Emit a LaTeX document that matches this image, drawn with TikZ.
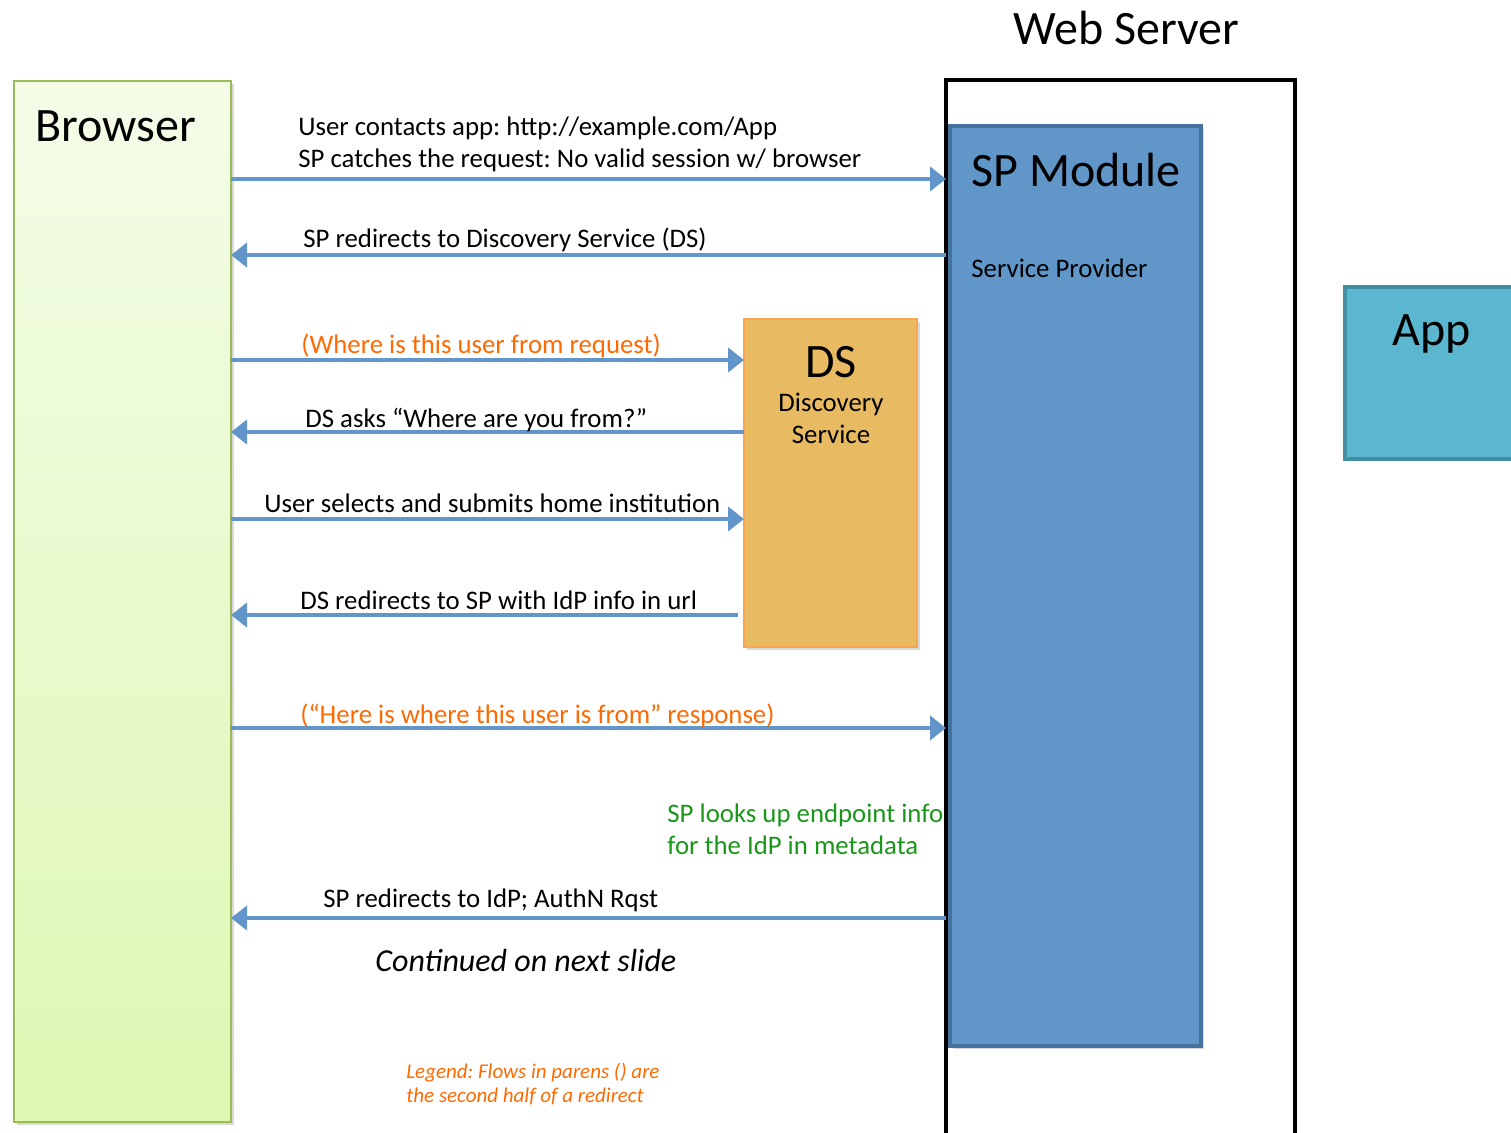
\documentclass[tikz,border=0pt]{standalone}
\usepackage{fontspec}
\setmainfont{Carlito}
\usetikzlibrary{arrows.meta,shadows}
\definecolor{flowblue}{HTML}{6295C9}
\definecolor{spfill}{HTML}{6196C9}
\definecolor{spline}{HTML}{44729F}
\definecolor{appfill}{HTML}{5BB7D0}
\definecolor{appline}{HTML}{418FA1}
\definecolor{dsfill}{HTML}{E8BB62}
\definecolor{dsline}{HTML}{F8A64F}
\definecolor{brtop}{HTML}{F4FCE8}
\definecolor{brbot}{HTML}{DDF8B2}
\definecolor{brline}{HTML}{9BBB59}
\definecolor{redirorange}{HTML}{FD6A02}
\definecolor{lookgreen}{HTML}{1A961A}
\frenchspacing

\begin{document}
\begin{tikzpicture}[x=0.5pt,y=-0.5pt,
		box/.style={rectangle,anchor=north west,inner sep=0pt,outer sep=0pt},
		flow/.style={draw=flowblue,line width=2pt,-{Triangle[length=8pt,width=12pt]}},
		msg/.style={anchor=base west,inner sep=0pt,align=left,font=\fontsize{13.4}{16}\selectfont},
		big/.style={inner sep=0pt,font=\fontsize{24}{28}\selectfont},
		shade/.style={drop shadow={opacity=0.3,shadow xshift=1.5pt,shadow yshift=-1.5pt}}]
	\clip (0,0) rectangle (1511,1132);
	% web server frame and the SP module inside it
	\node[box,draw=black,line width=2pt,fill=white,minimum width=174.5pt,minimum height=530pt] (webserver) at (946,80) {};
	\node[box,draw=spline,line width=2pt,fill=spfill,shade,minimum width=125.5pt,minimum height=460pt] (spmod) at (950,126) {};
	% discovery service and app
	\node[box,draw=dsline,line width=1pt,fill=dsfill,shade,minimum width=86.5pt,minimum height=164pt] (ds) at (744,319) {};
	\node[box,draw=appline,line width=2pt,fill=appfill,minimum width=92.5pt,minimum height=86pt] (app) at (1345,287) {};
	% browser column
	\node[box,draw=brline,line width=1pt,top color=brtop,bottom color=brbot,shade,minimum width=108.5pt,minimum height=520.5pt] (browser) at (14,81) {};
	% titles (base of a two line node is its last line)
	\node[big,anchor=base west] (browsertitle) at (35,141) {Browser};
	\node[big,anchor=base west] (webtitle) at (1013,44) {Web Server};
	\node[big,anchor=base west] (sptitle) at (971,186) {SP Module};
	\node[msg] (spsub) at (971,277) {Service Provider};
	\node[big,anchor=base] (apptitle) at (1432,345) {App};
	\node[big,anchor=base] (dstitle) at (831,377) {DS};
	\node[msg,anchor=base,align=center] (dssub) at (831,443) {Discovery\\Service};
	% levels of the flows
	\coordinate (y1) at (0,179);
	\coordinate (y2) at (0,255);
	\coordinate (y3) at (0,360);
	\coordinate (y4) at (0,432);
	\coordinate (y5) at (0,519);
	\coordinate (y6) at (0,615);
	\coordinate (y7) at (0,728);
	\coordinate (y8) at (0,918);
	% flows
	\draw[flow] (browser.east |- y1) -- (webserver.west |- y1);
	\draw[flow] (webserver.west |- y2) -- (browser.east |- y2);
	\draw[flow] (browser.east |- y3) -- (ds.west |- y3);
	\draw[flow] (ds.west |- y4) -- (browser.east |- y4);
	\draw[flow] (browser.east |- y5) -- (ds.west |- y5);
	\draw[flow,shorten <=3pt] (ds.west |- y6) -- (browser.east |- y6);
	\draw[flow] (browser.east |- y7) -- (webserver.west |- y7);
	\draw[flow] (webserver.west |- y8) -- (browser.east |- y8);
	% flow labels
	\node[msg] (m1) at (298,167) {User contacts app: http://example.com/App\\SP catches the request: No valid session w/ browser};
	\node[msg] (m2) at (303,247) {SP redirects to Discovery Service (DS)};
	\node[msg,text=redirorange] (m3) at (301,353) {(Where is this user from request)};
	\node[msg] (m4) at (305,427) {DS asks “Where are you from?”};
	\node[msg] (m5) at (264,512) {User selects and submits home institution};
	\node[msg] (m6) at (300,609) {DS redirects to SP with IdP info in url};
	\node[msg,text=redirorange] (m7) at (300,723) {(“Here is where this user is from” response)};
	\node[msg,text=lookgreen] (lookup) at (667,854) {SP looks up endpoint info\\for the IdP in metadata};
	\node[msg] (m8) at (323,907) {SP redirects to IdP; AuthN Rqst};
	\node[msg,font=\fontsize{16}{19}\selectfont\itshape] (cont) at (375,971) {Continued on next slide};
	\node[msg,text=redirorange,font=\fontsize{10.5}{12}\selectfont\itshape] (legend) at (406,1102) {Legend: Flows in parens () are\\the second half of a redirect};
\end{tikzpicture}
\end{document}
